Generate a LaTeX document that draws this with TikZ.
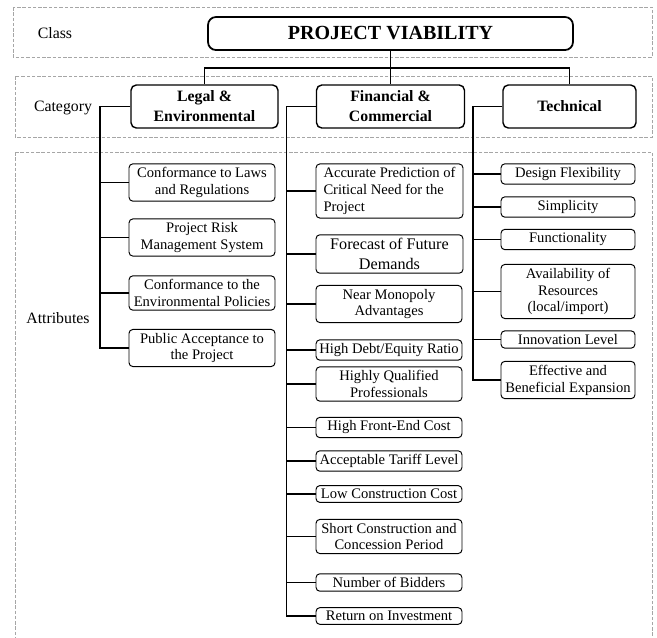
\documentclass[tikz,border=0pt]{standalone}
\usepackage{fontspec}
\setmainfont{Liberation Serif}

\begin{document}
\begin{tikzpicture}[x=0.02cm,y=-0.02cm,
    band/.style={draw=gray!70,line width=0.4pt,dash pattern=on 2pt off 1pt},
    classbox/.style={draw,line width=1pt,rounded corners=4.5pt,minimum width=7.3cm,minimum height=0.66cm,font=\fontsize{11.4}{13}\selectfont\bfseries},
    catbox/.style={draw,line width=0.8pt,rounded corners=3pt,minimum height=0.86cm,align=center,font=\fontsize{9}{11.3}\selectfont\bfseries},
    attr/.style={draw,line width=0.55pt,rounded corners=2.2pt,align=center,inner xsep=1pt,inner ysep=2pt,font=\fontsize{8.3}{9.6}\selectfont},
    lbl/.style={font=\fontsize{9}{11}\selectfont},
    link/.style={line width=0.65pt}]
  \useasboundingbox (0,0) rectangle (657,637);
  % bands
  \draw[band] (13,7) rectangle (652,57);
  \draw[band] (15,76) rectangle (652,137);
  \draw[band] (15,152) rectangle (652,650);
  \node[lbl] (cls) at (55,33) {Class};
  \node[lbl] (cat) at (63,108) {Category};
  \node[lbl] (att) at (58,318) {Attributes};
  % class and categories
  \node[classbox] (title) at (390.5,33.5) {PROJECT VIABILITY};
  \node[catbox,minimum width=2.94cm] (legal) at (204.5,106.5) {Legal \&\\Environmental};
  \node[catbox,minimum width=2.96cm] (fin) at (390.5,106.5) {Financial \&\\Commercial};
  \node[catbox,minimum width=2.66cm] (tech) at (569.5,106.5) {Technical};
  \coordinate (bus) at (390.5,68);
  \draw[link] (title.south) -- (fin.north);
  \draw[link] (legal.north) |- (bus) -| (tech.north);
  % attributes
  \coordinate (lsp) at (100,0);
  \coordinate (fsp) at (286.5,0);
  \coordinate (tsp) at (473,0);
  \foreach \y/\t [count=\i] in {182.5/{Conformance to Laws\\and Regulations},237.5/{Project Risk\\Management System},293/{Conformance to the\\Environmental Policies},348/{Public Acceptance to\\the Project}}
    \node[attr,minimum width=2.92cm] (l\i) at (202,\y) {\t};
  \node[attr,align=left,minimum width=2.94cm] (f1) at (389.5,191) {Accurate Prediction of\\Critical Need for the\\Project};
  \node[attr,minimum width=2.94cm,font=\fontsize{9.2}{11.3}\selectfont] (f2) at (389.5,254) {Forecast of Future\\Demands};
  \foreach \y/\t [count=\i from 3] in {304/{Near Monopoly\\Advantages},350/{High Debt/Equity Ratio},384/{Highly Qualified\\Professionals},427.5/{High Front-End Cost},461/{Acceptable Tariff Level},494/{Low Construction Cost},536.5/{Short Construction and\\Concession Period},582.5/{Number of Bidders},616/{Return on Investment}}
    \node[attr,minimum width=2.92cm] (f\i) at (389,\y) {\t};
  \foreach \y/\t [count=\i] in {174/{Design Flexibility},207/{Simplicity},239.5/{Functionality},291.5/{Availability of\\Resources\\(local/import)},339.5/{Innovation Level},380/{Effective and\\Beneficial Expansion}}
    \node[attr,minimum width=2.68cm] (t\i) at (568,\y) {\t};
  % spines
  \draw[link] (legal.west) -- (legal.west -| lsp) -- (l4.west -| lsp) -- (l4.west);
  \draw[link] (fin.west) -- (fin.west -| fsp) -- (f11.west -| fsp) -- (f11.west);
  \draw[link] (tech.west) -- (tech.west -| tsp) -- (t6.west -| tsp) -- (t6.west);
  \foreach \i in {1,2,3} \draw[link] (l\i.west) -- (l\i.west -| lsp);
  \foreach \i in {1,...,10} \draw[link] (f\i.west) -- (f\i.west -| fsp);
  \foreach \i in {1,...,5} \draw[link] (t\i.west) -- (t\i.west -| tsp);
\end{tikzpicture}
\end{document}
